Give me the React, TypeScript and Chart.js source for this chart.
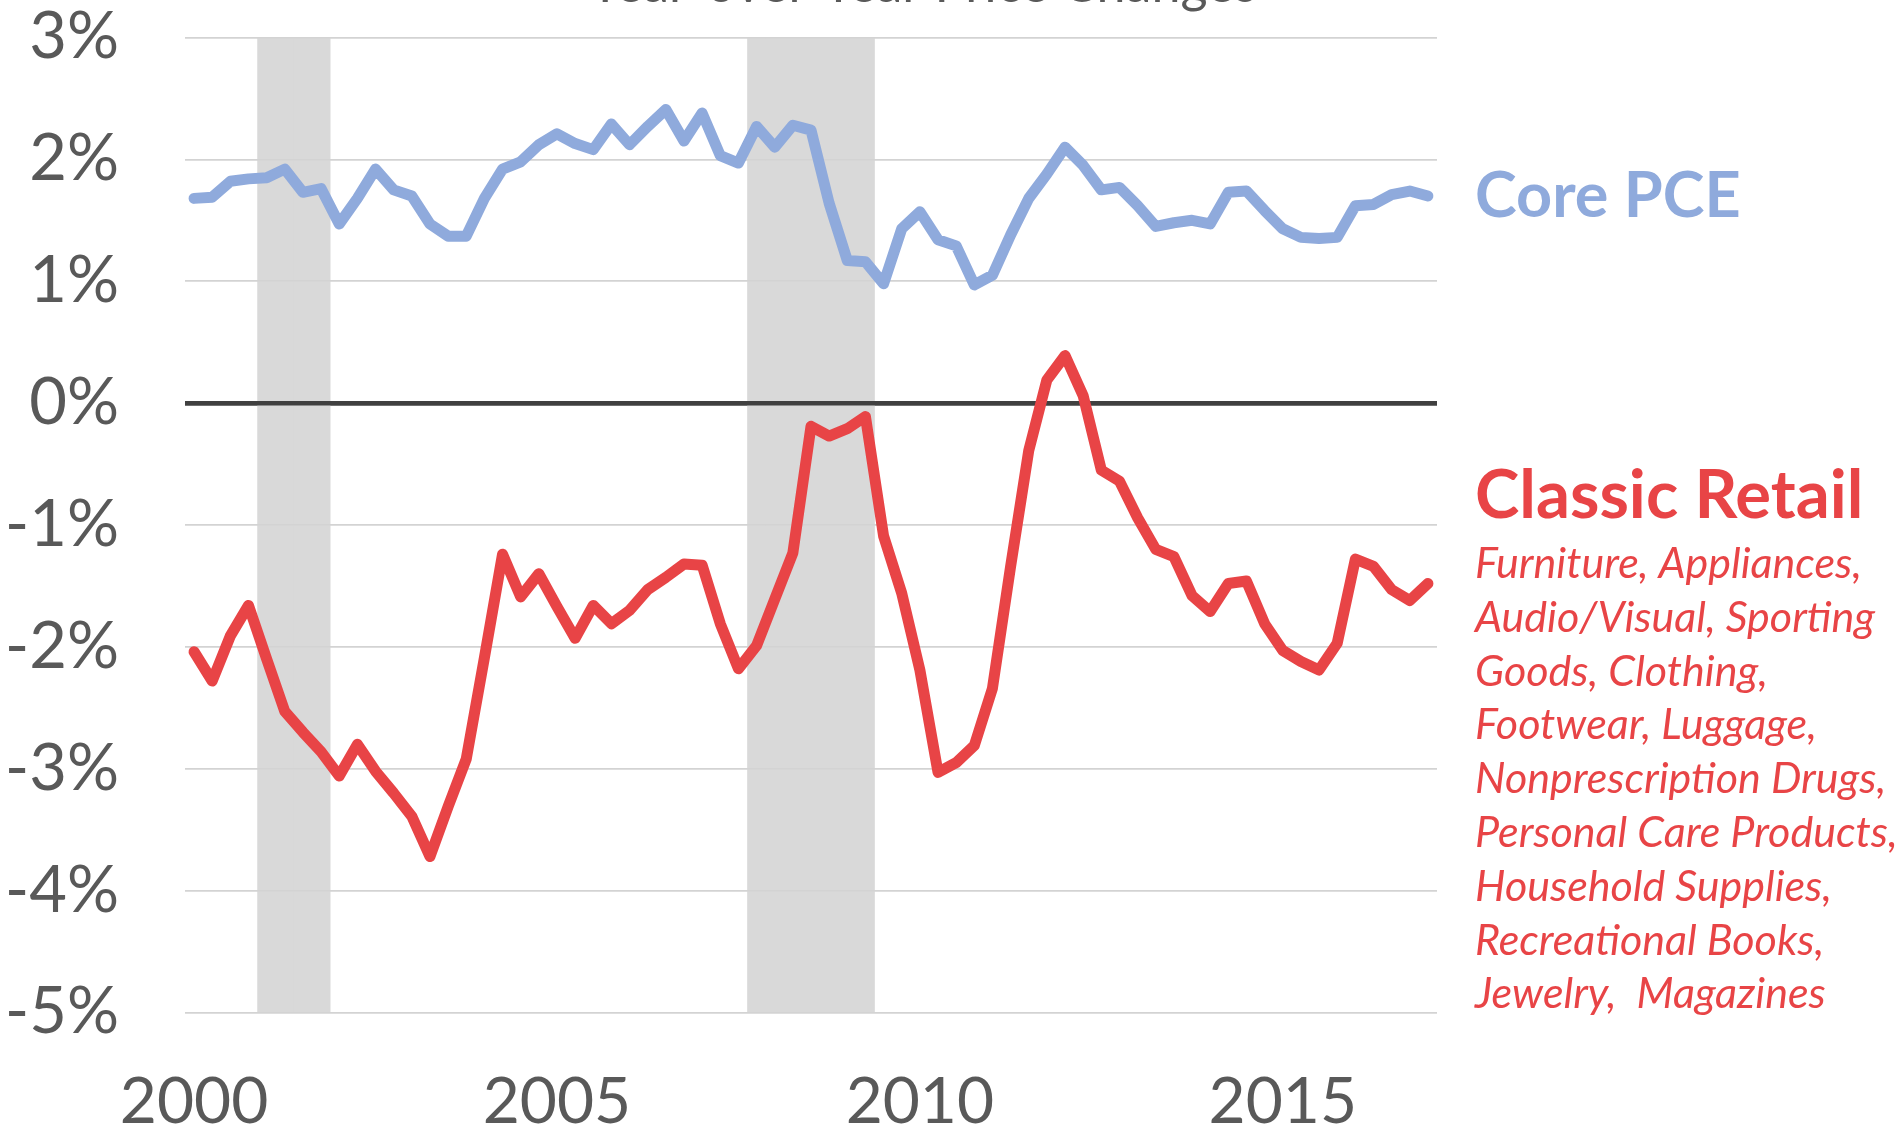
import React, { useEffect, useRef } from 'react';
import { Chart, registerables } from 'chart.js';

Chart.register(...registerables);

// ---------------- data ----------------
const quarters = [
  '2000Q1', '2000Q2', '2000Q3', '2000Q4',
  '2001Q1', '2001Q2', '2001Q3', '2001Q4',
  '2002Q1', '2002Q2', '2002Q3', '2002Q4',
  '2003Q1', '2003Q2', '2003Q3', '2003Q4',
  '2004Q1', '2004Q2', '2004Q3', '2004Q4',
  '2005Q1', '2005Q2', '2005Q3', '2005Q4',
  '2006Q1', '2006Q2', '2006Q3', '2006Q4',
  '2007Q1', '2007Q2', '2007Q3', '2007Q4',
  '2008Q1', '2008Q2', '2008Q3', '2008Q4',
  '2009Q1', '2009Q2', '2009Q3', '2009Q4',
  '2010Q1', '2010Q2', '2010Q3', '2010Q4',
  '2011Q1', '2011Q2', '2011Q3', '2011Q4',
  '2012Q1', '2012Q2', '2012Q3', '2012Q4',
  '2013Q1', '2013Q2', '2013Q3', '2013Q4',
  '2014Q1', '2014Q2', '2014Q3', '2014Q4',
  '2015Q1', '2015Q2', '2015Q3', '2015Q4',
  '2016Q1', '2016Q2', '2016Q3', '2016Q4',
  '2017Q1',
];

const xTickYears = ['2000', '2005', '2010', '2015'];

const corePCE = [
  1.68, 1.69, 1.82, 1.84, 1.85, 1.92, 1.73, 1.76,
  1.47, 1.68, 1.92, 1.75, 1.70, 1.47, 1.37, 1.37,
  1.68, 1.92, 1.98, 2.12, 2.21, 2.13, 2.08, 2.29,
  2.12, 2.27, 2.41, 2.15, 2.38, 2.03, 1.97, 2.27,
  2.10, 2.28, 2.24, 1.64, 1.17, 1.16, 0.98, 1.43,
  1.57, 1.34, 1.29, 0.97, 1.05, 1.38, 1.68, 1.88,
  2.10, 1.95, 1.75, 1.77, 1.62, 1.45, 1.48, 1.50,
  1.47, 1.73, 1.74, 1.58, 1.43, 1.36, 1.35, 1.36,
  1.62, 1.63, 1.71, 1.74, 1.70,
];

const classicRetail = [
  -2.04, -2.28, -1.91, -1.66, -2.10, -2.53, -2.70, -2.86,
  -3.06, -2.80, -3.02, -3.20, -3.39, -3.72, -3.31, -2.92,
  -2.09, -1.24, -1.59, -1.40, -1.67, -1.93, -1.66, -1.81,
  -1.70, -1.53, -1.43, -1.32, -1.33, -1.81, -2.18, -1.99,
  -1.61, -1.23, -0.19, -0.27, -0.21, -0.11, -1.09, -1.56,
  -2.19, -3.03, -2.95, -2.81, -2.34, -1.34, -0.39, 0.19,
  0.39, 0.06, -0.55, -0.64, -0.94, -1.20, -1.26, -1.58,
  -1.71, -1.48, -1.46, -1.81, -2.03, -2.12, -2.19, -1.97,
  -1.28, -1.34, -1.53, -1.62, -1.48,
];

const recessionStarts = ['2001Q1', '2007Q4'];
const recessionEnds = ['2001Q4', '2009Q2'];

const yMin = -5;
const yMax = 3;

const titleText = 'Year-over-Year Price Changes';
const coreLabel = 'Core PCE';
const retailLabel = 'Classic Retail';
const retailItems = [
  'Furniture, Appliances,',
  'Audio/Visual, Sporting',
  'Goods, Clothing,',
  'Footwear, Luggage,',
  'Nonprescription Drugs,',
  'Personal Care Products,',
  'Household Supplies,',
  'Recreational Books,',
  'Jewelry,  Magazines',
];

// ---------------- styling ----------------
const BLUE = '#8FAADC';
const RED = '#E84446';
const GREY_TEXT = '#595959';
const FONT = 'Lato';

const recessionData = quarters.map((_, i) => {
  for (let r = 0; r < recessionStarts.length; r++) {
    const s = quarters.indexOf(recessionStarts[r]);
    const e = quarters.indexOf(recessionEnds[r]);
    if (i >= s && i <= e) return [yMin, yMax];
  }
  return null;
});

const overlayPlugin = {
  id: 'overlayTexts',
  afterDatasetDraw(chart: any, args: any) {
    // redraw horizontal grid on top of the recession bands, below the lines
    if (args.index === 0) {
      chart.scales.y.drawGrid(chart.chartArea);
    }
  },
  afterDraw(chart: any) {
    const ctx = chart.ctx as CanvasRenderingContext2D;
    ctx.save();
    // title (clipped at top of picture)
    ctx.fillStyle = GREY_TEXT;
    ctx.font = `52px ${FONT}`;
    ctx.textAlign = 'center';
    ctx.textBaseline = 'alphabetic';
    ctx.fillText(titleText, 923, 2);

    ctx.textAlign = 'left';
    ctx.fillStyle = BLUE;
    ctx.font = `bold 63px ${FONT}`;
    ctx.fillText(coreLabel, 1475, 217);

    ctx.fillStyle = RED;
    ctx.font = `bold 67px ${FONT}`;
    ctx.fillText(retailLabel, 1475, 518);

    ctx.font = `italic 43px ${FONT}`;
    retailItems.forEach((t, k) => {
      ctx.fillText(t, 1475, 578 + 53.8 * k);
    });
    ctx.restore();
  },
};

export default function App() {
  const canvasRef = useRef<HTMLCanvasElement | null>(null);

  useEffect(() => {
    const canvas = canvasRef.current;
    if (!canvas) return;
    const chart = new Chart(canvas, {
      type: 'bar',
      data: {
        labels: quarters,
        datasets: [
          {
            type: 'bar',
            label: 'Recession',
            data: recessionData as any,
            backgroundColor: '#D9D9D9',
            borderWidth: 0,
            barPercentage: 1,
            categoryPercentage: 1,
            order: 3,
          },
          {
            type: 'line',
            label: coreLabel,
            data: corePCE,
            borderColor: BLUE,
            backgroundColor: BLUE,
            borderWidth: 11,
            pointRadius: 0,
            tension: 0,
            borderJoinStyle: 'round',
            borderCapStyle: 'round',
            fill: false,
            order: 2,
          },
          {
            type: 'line',
            label: retailLabel,
            data: classicRetail,
            borderColor: RED,
            backgroundColor: RED,
            borderWidth: 11,
            pointRadius: 0,
            tension: 0,
            borderJoinStyle: 'round',
            borderCapStyle: 'round',
            fill: false,
            order: 1,
          },
        ],
      },
      options: {
        animation: false,
        responsive: true,
        maintainAspectRatio: false,
        layout: { padding: { left: 0, right: 462, top: 37.5, bottom: 0 } },
        plugins: {
          legend: { display: false },
          title: { display: false },
          tooltip: { enabled: false },
        },
        scales: {
          x: {
            type: 'category',
            offset: true,
            grid: { display: false, drawTicks: false },
            border: { display: false },
            ticks: {
              autoSkip: false,
              maxRotation: 0,
              minRotation: 0,
              padding: 58,
              color: GREY_TEXT,
              font: { family: FONT, size: 64, lineHeight: 1 },
              callback: (_v: any, index: number) => {
                const q = quarters[index];
                const yr = q.slice(0, 4);
                return q.endsWith('Q1') && xTickYears.includes(yr) ? yr : '';
              },
            },
            afterFit: (scale: any) => {
              scale.height = 122.5;
              scale.paddingLeft = 0;
              scale.paddingRight = 0;
            },
          },
          y: {
            min: yMin,
            max: yMax,
            grid: {
              drawTicks: false,
              color: (c: any) => (c.tick && c.tick.value === 0 ? '#404040' : '#D3D3D3'),
              lineWidth: (c: any) => (c.tick && c.tick.value === 0 ? 4.5 : 1.6),
            },
            border: { display: false },
            ticks: {
              stepSize: 1,
              padding: 66,
              color: GREY_TEXT,
              font: { family: FONT, size: 65, lineHeight: 1 },
              callback: (v: any) => `${v}%`,
            },
            afterFit: (scale: any) => {
              scale.width = 185;
              scale.paddingTop = 0;
              scale.paddingBottom = 0;
            },
          },
        },
      },
      plugins: [overlayPlugin],
    } as any);
    return () => chart.destroy();
  }, []);

  return (
    <div style={{ position: 'fixed', left: 0, top: 0, width: '1899px', height: '1135px', background: '#fff' }}>
      <canvas ref={canvasRef} />
    </div>
  );
}
